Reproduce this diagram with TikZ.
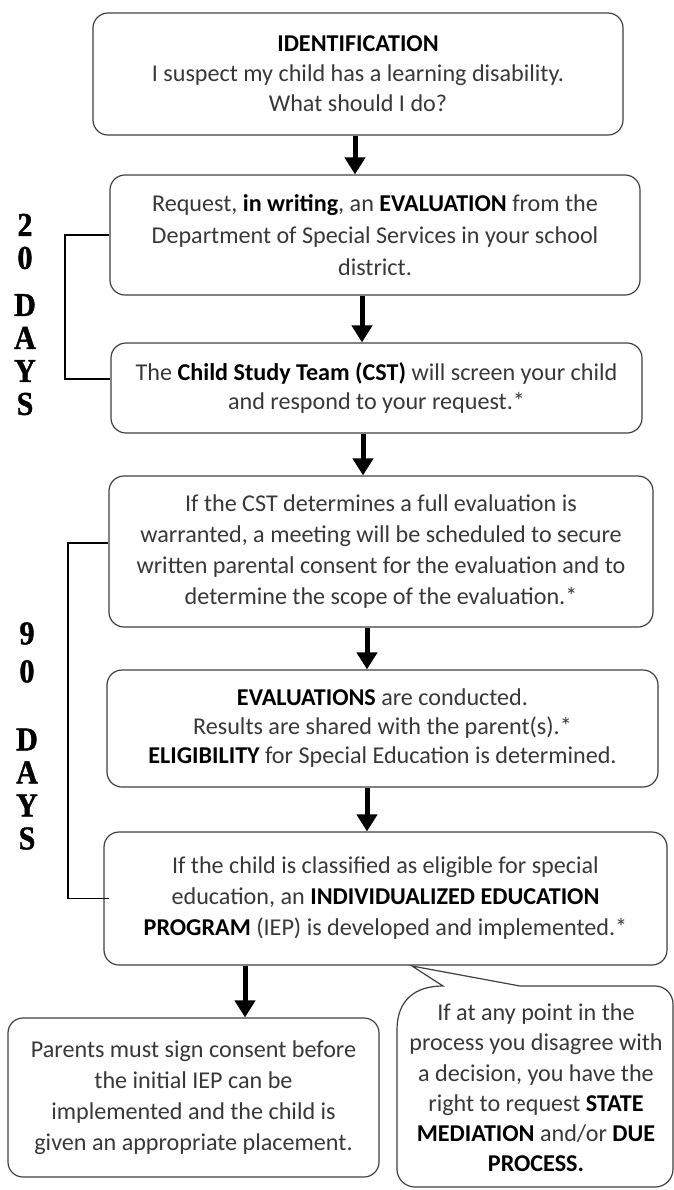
\documentclass[tikz,border=0pt]{standalone}
\usepackage{fontspec}
\setmainfont{Carlito}
\newfontfamily\daysfont{Liberation Serif}[FakeStretch=0.9,FakeBold=1.2]
\usetikzlibrary{arrows.meta}
\newcommand{\mybf}[1]{{\bfseries\color{black}#1}}
\begin{document}
\begin{tikzpicture}[x=0.75pt,y=-0.75pt,
  box/.style={draw=black!75, line width=0.9pt, rounded corners=11.25pt, fill=white,
    align=center, inner sep=0pt, text=black!78},
  fs/.style={font=\fontsize{18.1pt}{#1}\selectfont},
  arr/.style={line width=3.75pt, -{Triangle[width=15pt,length=12.75pt]}},
  bracket/.style={draw=black, line width=0.9pt},
  days/.style={align=center, inner sep=0pt, font=\daysfont\bfseries\fontsize{25pt}{24.75pt}\selectfont}]
\useasboundingbox (0,0) rectangle (674,1190);

% boxes
\node[box, fs=22.5pt, minimum width=397.5pt, minimum height=91.5pt] (b1) at (358,74)
  {\mybf{IDENTIFICATION}\\I suspect my child has a learning disability.\\What should I do?};
\node[box, fs=24pt, minimum width=397.5pt, minimum height=90pt] (b2) at (375,235)
  {Request, \mybf{in writing}, an \mybf{EVALUATION} from the\\Department of Special Services in your school\\district.};
\node[box, fs=21.75pt, minimum width=398.25pt, minimum height=67.5pt] (b3) at (376.5,388)
  {The \mybf{Child Study Team (CST)} will screen your child\\and respond to your request.*};
\node[box, fs=23.25pt, minimum width=408pt, minimum height=113.25pt] (b4) at (381,551.5)
  {If the CST determines a full evaluation is\\warranted, a meeting will be scheduled to secure\\written parental consent for the evaluation and to\\determine the scope of the evaluation.*};
\node[box, fs=21.75pt, minimum width=413.25pt, minimum height=87.75pt] (b5) at (382.5,728.5)
  {\mybf{EVALUATIONS} are conducted.\\Results are shared with the parent(s).*\\\mybf{ELIGIBILITY} for Special Education is determined.};
\node[box, fs=23.25pt, minimum width=422.25pt, minimum height=99.75pt] (b6) at (385.5,898.5)
  {If the child is classified as eligible for special\\education, an \mybf{INDIVIDUALIZED EDUCATION}\\\mybf{PROGRAM} (IEP) is developed and implemented.*};
\node[box, fs=23.25pt, minimum width=278.25pt, minimum height=119.25pt] (b7) at (193.5,1097.5)
  {Parents must sign consent before\\the initial IEP can be\\implemented and the child is\\given an appropriate placement.};

% callout
\coordinate (tip) at (412,966);
\draw[draw=black!75, line width=0.9pt, fill=white]
  (520,986) -- (655,986) .. controls (665,986) and (673,994) .. (673,1004)
  -- (673,1169) .. controls (673,1179) and (665,1187) .. (655,1187)
  -- (415,1187) .. controls (405,1187) and (397,1179) .. (397,1169)
  -- (397,1030) .. controls (397,1000) and (415,986) .. (443,986)
  -- (tip) -- cycle;
\node[align=center, inner sep=0pt, text=black!78, fs=22.7pt] (call) at (536,1088)
  {If at any point in the\\process you disagree with\\a decision, you have the\\right to request \mybf{STATE}\\\mybf{MEDIATION} and/or \mybf{DUE}\\\mybf{PROCESS.}};

% arrows
\coordinate (x1) at (355,0);
\coordinate (x2) at (362,0);
\coordinate (x3) at (363,0);
\coordinate (x4) at (367,0);
\coordinate (x6) at (245,0);
\draw[arr] (b1.south -| x1) -- (b2.north -| x1);
\draw[arr] (b2.south -| x2) -- (b3.north -| x2);
\draw[arr] (b3.south -| x3) -- (b4.north -| x3);
\draw[arr] (b4.south -| x4) -- (b5.north -| x4);
\draw[arr] (b5.south -| x4) -- (b6.north -| x4);
\draw[arr] (b6.south -| x6) -- (b7.north -| x6);

% brackets
\coordinate (v20) at (65,0);
\coordinate (v90) at (68,0);
\draw[bracket] (b2.west) -- (b2.west -| v20) |- ([yshift=6.75pt]b3.west);
\draw[bracket] ([yshift=6.4pt]b4.west) -- ([yshift=6.4pt]b4.west -| v90) |- ([xshift=4.5pt]b6.west);

% day labels
\node[days] (d20) at (25,314.5) {2\\0\\[10.5pt]D\\A\\Y\\S};
\node[days] (d90) at (27,736) {9\\[3.75pt]0\\[26.25pt]D\\A\\Y\\S};
\end{tikzpicture}
\end{document}
